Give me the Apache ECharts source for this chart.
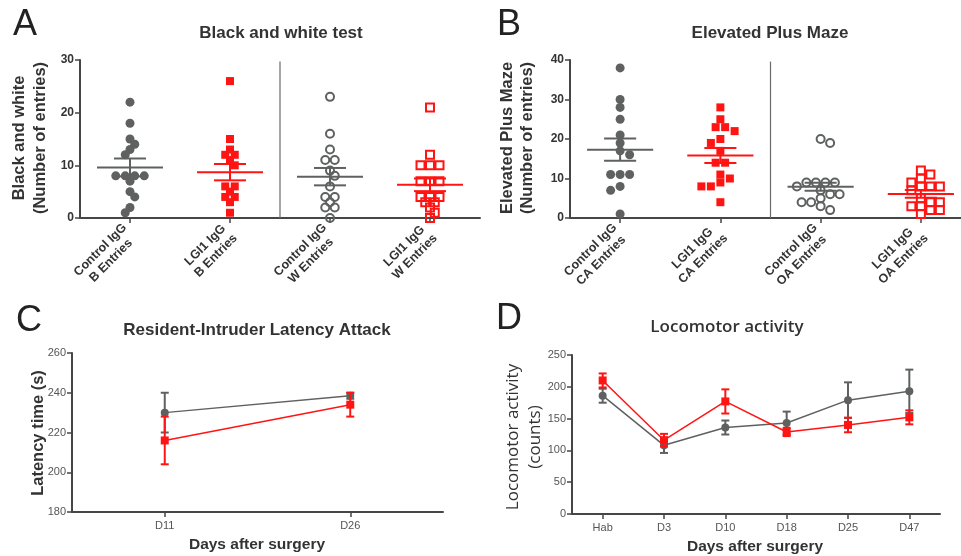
<!DOCTYPE html>
<html><head><meta charset="utf-8">
<script src="https://cdn.jsdelivr.net/npm/echarts@6/dist/echarts.min.js"></script>
<style>html,body{margin:0;padding:0;background:#fff}#c{width:961px;height:556px}</style>
</head><body><div id="c"></div>
<script>
// ---------- DATA ----------
// Panel A: Black and white test (number of entries)
const catA = ['Control IgG\nB Entries', 'LGI1 IgG\nB Entries', 'Control IgG\nW Entries', 'LGI1 IgG\nW Entries'];
const aCtrlB = [22, 18, 15, 14, 13, 12, 8, 8, 8, 8, 7, 5, 4, 2, 1];
const aLgiB  = [26, 15, 13, 12, 12, 11, 10, 6, 6, 5, 4, 4, 3, 1];
const aCtrlW = [23, 16, 13, 11, 11, 9, 8, 6, 4, 4, 3, 2, 2, 0];
const aLgiW  = [21, 12, 10, 10, 10, 7, 7, 7, 4, 4, 4, 3, 3, 2, 1, 0];
const aMean = [9.6, 8.7, 7.85, 6.3];
const aSem  = [1.7, 1.55, 1.65, 1.2];
const aTicks = [0, 10, 20, 30];

// Panel B: Elevated Plus Maze (number of entries)
const catB = ['Control IgG\nCA Entries', 'LGI1 IgG\nCA Entries', 'Control IgG\nOA Entries', 'LGI1 IgG\nOA Entries'];
const bCtrlCA = [38, 30, 28, 25, 21, 19, 17, 16, 11, 11, 11, 8, 7, 1];
const bLgiCA  = [28, 25, 23, 23, 22, 20, 19, 17, 14, 14, 11, 10, 9, 8, 8, 4];
const bCtrlOA = [20, 19, 9, 9, 9, 9, 8, 7, 6, 6, 5, 4, 4, 3, 2];
const bLgiOA  = [12, 11, 10, 9, 8, 8, 8, 7, 5, 4, 4, 3, 3, 2, 2, 1];
const bMean = [17.3, 15.8, 7.9, 6.1];
const bSem  = [2.8, 1.9, 1.0, 1.0];
const bTicks = [0, 10, 20, 30, 40];

// Panel C: Resident-Intruder latency attack
const cDays = ['D11', 'D26'];
const cCtrl = [230, 238.5];
const cCtrlErr = [10, 1.5];
const cLgi = [216, 234];
const cLgiErr = [12, 6];

// Panel D: Locomotor activity
const dDays = ['Hab', 'D3', 'D10', 'D18', 'D25', 'D47'];
const dCtrl = [186, 108, 136, 143, 179, 193];
const dCtrlErr = [11, 12, 11, 18, 28, 34];
const dLgi = [210, 116, 177, 129, 140, 152];
const dLgiErr = [11, 10, 19, 6.5, 11.5, 11];

// ---------- STYLE ----------
const GREY = '#5f6161';
const RED = '#ff1414';
const AXIS = '#464646';
const FONT = '"Liberation Sans", Arial, sans-serif';

const gA = {left: 80, top: 60, width: 400, height: 158};
const gB = {left: 570, top: 60, width: 401, height: 158};
const gC = {left: 72, top: 353, width: 371, height: 159};
const gD = {left: 572, top: 355, width: 368, height: 159};

// beeswarm offsets (category units) computed from values
function swarm(values, pxPerUnit, catPx) {
  const step = 9.5, minDist = 7;
  const placed = [];
  const out = new Array(values.length);
  const order = values.map((v, i) => i).sort((a, b) => values[b] - values[a]);
  let k = 0, flip = 1;
  while (k < order.length) {
    let j = k;
    while (j < order.length && values[order[j]] === values[order[k]]) j++;
    const n = j - k;
    const y = values[order[k]] * pxPerUnit;
    const shifts = [0];
    for (let s = 1; s < 30; s++) shifts.push(flip * s * step / 2, -flip * s * step / 2);
    for (const sh of shifts) {
      const xs = [];
      for (let m = 0; m < n; m++) xs.push((m - (n - 1) / 2) * step + sh);
      if (xs.every(x => placed.every(p => Math.hypot(p.x - x, p.y - y) >= minDist))) {
        xs.forEach((x, m) => { placed.push({x, y}); out[order[k + m]] = x / catPx; });
        if (sh !== 0) flip = -flip;
        break;
      }
    }
    k = j;
  }
  return out;
}
function scatterData(values, idx, grid, ymax) {
  const off = swarm(values, grid.height / ymax, grid.width / 4);
  return values.map((v, i) => [idx + off[i], v]);
}

function meanSemRender(color0, color1) {
  return function (params, api) {
    const i = api.value(0), m = api.value(1), s = api.value(2);
    const col = (i % 2 === 0) ? color0 : color1;
    const ml = api.coord([i - 0.33, m]), mr = api.coord([i + 0.33, m]);
    const tl = api.coord([i - 0.16, m + s]), tr = api.coord([i + 0.16, m + s]);
    const bl = api.coord([i - 0.16, m - s]), br = api.coord([i + 0.16, m - s]);
    const st = {stroke: col, lineWidth: 2};
    return {type: 'group', children: [
      {type: 'line', shape: {x1: ml[0], y1: ml[1], x2: mr[0], y2: mr[1]}, style: st},
      {type: 'line', shape: {x1: tl[0], y1: tl[1], x2: tr[0], y2: tr[1]}, style: st},
      {type: 'line', shape: {x1: bl[0], y1: bl[1], x2: br[0], y2: br[1]}, style: st},
      {type: 'line', shape: {x1: (tl[0] + tr[0]) / 2, y1: tl[1], x2: (bl[0] + br[0]) / 2, y2: bl[1]}, style: st}
    ]};
  };
}
function dividerRender(ymax) {
  return function (params, api) {
    const x = api.value(0);
    const a = api.coord([x, 0]), b = api.coord([x, ymax * 0.99]);
    return {type: 'line', shape: {x1: a[0], y1: a[1], x2: b[0], y2: b[1]}, style: {stroke: '#6a6a6a', lineWidth: 1.2}};
  };
}
function errRender(color) {
  return function (params, api) {
    const x = api.value(0), v = api.value(1), e = api.value(2);
    const t = api.coord([x, v + e]), b = api.coord([x, v - e]);
    const hw = 4, st = {stroke: color, lineWidth: 2};
    return {type: 'group', children: [
      {type: 'line', shape: {x1: t[0], y1: t[1], x2: b[0], y2: b[1]}, style: st},
      {type: 'line', shape: {x1: t[0] - hw, y1: t[1], x2: t[0] + hw, y2: t[1]}, style: st},
      {type: 'line', shape: {x1: b[0] - hw, y1: b[1], x2: b[0] + hw, y2: b[1]}, style: st}
    ]};
  };
}

function catAxisRot(grid, data) {
  return {
    type: 'category', gridIndex: grid, data: data, boundaryGap: true,
    axisLine: {show: true, onZero: false, lineStyle: {color: AXIS, width: 2}},
    axisTick: {show: true, alignWithLabel: true, length: 5, lineStyle: {color: AXIS, width: 1.5}},
    axisLabel: {
      interval: 0, rotate: 45, margin: 13, color: '#333', fontSize: 12.5, fontWeight: 'bold', fontFamily: FONT,
      formatter: v => v.split('\n').map(s => '{c|' + s + '}').join('\n'),
      rich: {c: {align: 'center', fontSize: 12.5, fontWeight: 'bold', color: '#333', fontFamily: FONT, lineHeight: 15}}
    }
  };
}
function hiddenX(grid) {
  return {type: 'value', gridIndex: grid, min: -0.5, max: 3.5, show: false};
}
function catAxis(grid, data) {
  return {
    type: 'category', gridIndex: grid, data: data, boundaryGap: true,
    axisLine: {show: true, onZero: false, lineStyle: {color: AXIS, width: 2}},
    axisTick: {show: true, alignWithLabel: true, length: 5, lineStyle: {color: AXIS, width: 1.5}},
    axisLabel: {interval: 0, margin: 8, color: '#555', fontSize: 11, fontFamily: FONT}
  };
}
function valAxis(grid, min, max, interval, bold) {
  return {
    type: 'value', gridIndex: grid, min: min, max: max, interval: interval,
    axisLine: {show: true, onZero: false, lineStyle: {color: AXIS, width: 2}},
    axisTick: {show: true, length: 5, lineStyle: {color: AXIS, width: 1.5}},
    splitLine: {show: false},
    axisLabel: {margin: 6, color: bold ? '#333' : '#555', fontSize: bold ? 12 : 11, fontWeight: bold ? 'bold' : 'normal', fontFamily: FONT}
  };
}

function scatter(xi, yi, data, symbol, size, filled, color) {
  return {
    type: 'scatter', xAxisIndex: xi, yAxisIndex: yi, data: data, symbol: symbol, symbolSize: size, z: 3,
    itemStyle: filled ? {color: color, opacity: 1} : {color: 'rgba(0,0,0,0)', borderColor: color, borderWidth: 2, opacity: 1},
    emphasis: {disabled: true}
  };
}

const aMax = aTicks[aTicks.length - 1], bMax = bTicks[bTicks.length - 1];

const option = {
  animation: false,
  backgroundColor: '#fff',
  grid: [gA, gB, gC, gD].map(g => Object.assign({containLabel: false, outerBoundsMode: 'none'}, g)),
  xAxis: [
    catAxisRot(0, catA), hiddenX(0),
    catAxisRot(1, catB), hiddenX(1),
    catAxis(2, cDays), catAxis(3, dDays)
  ],
  yAxis: [
    valAxis(0, aTicks[0], aMax, aTicks[1] - aTicks[0], true),
    valAxis(1, bTicks[0], bMax, bTicks[1] - bTicks[0], true),
    valAxis(2, 180, 260, 20, false),
    valAxis(3, 0, 250, 50, false)
  ],
  series: [
    // Panel A
    {type: 'custom', xAxisIndex: 1, yAxisIndex: 0, data: [[1.5]], renderItem: dividerRender(aMax), z: 1, silent: true},
    scatter(1, 0, scatterData(aCtrlB, 0, gA, aMax), 'circle', 9, true, GREY),
    scatter(1, 0, scatterData(aLgiB, 1, gA, aMax), 'rect', 8, true, RED),
    scatter(1, 0, scatterData(aCtrlW, 2, gA, aMax), 'circle', 8, false, GREY),
    scatter(1, 0, scatterData(aLgiW, 3, gA, aMax), 'rect', 8, false, RED),
    {type: 'custom', xAxisIndex: 1, yAxisIndex: 0, data: aMean.map((m, i) => [i, m, aSem[i]]), renderItem: meanSemRender(GREY, RED), z: 5, silent: true},
    // Panel B
    {type: 'custom', xAxisIndex: 3, yAxisIndex: 1, data: [[1.5]], renderItem: dividerRender(bMax), z: 1, silent: true},
    scatter(3, 1, scatterData(bCtrlCA, 0, gB, bMax), 'circle', 9, true, GREY),
    scatter(3, 1, scatterData(bLgiCA, 1, gB, bMax), 'rect', 8, true, RED),
    scatter(3, 1, scatterData(bCtrlOA, 2, gB, bMax), 'circle', 8, false, GREY),
    scatter(3, 1, scatterData(bLgiOA, 3, gB, bMax), 'rect', 8, false, RED),
    {type: 'custom', xAxisIndex: 3, yAxisIndex: 1, data: bMean.map((m, i) => [i, m, bSem[i]]), renderItem: meanSemRender(GREY, RED), z: 5, silent: true},
    // Panel C
    {type: 'custom', xAxisIndex: 4, yAxisIndex: 2, data: cCtrl.map((v, i) => [i, v, cCtrlErr[i]]), renderItem: errRender(GREY), z: 2, silent: true},
    {type: 'line', xAxisIndex: 4, yAxisIndex: 2, data: cCtrl, symbol: 'circle', symbolSize: 8, showAllSymbol: true, z: 3,
      lineStyle: {color: GREY, width: 1.5}, itemStyle: {color: GREY}},
    {type: 'custom', xAxisIndex: 4, yAxisIndex: 2, data: cLgi.map((v, i) => [i, v, cLgiErr[i]]), renderItem: errRender(RED), z: 4, silent: true},
    {type: 'line', xAxisIndex: 4, yAxisIndex: 2, data: cLgi, symbol: 'rect', symbolSize: 8, showAllSymbol: true, z: 5,
      lineStyle: {color: RED, width: 1.5}, itemStyle: {color: RED}},
    // Panel D
    {type: 'custom', xAxisIndex: 5, yAxisIndex: 3, data: dCtrl.map((v, i) => [i, v, dCtrlErr[i]]), renderItem: errRender(GREY), z: 2, silent: true},
    {type: 'line', xAxisIndex: 5, yAxisIndex: 3, data: dCtrl, symbol: 'circle', symbolSize: 8, showAllSymbol: true, z: 3,
      lineStyle: {color: GREY, width: 1.5}, itemStyle: {color: GREY}},
    {type: 'custom', xAxisIndex: 5, yAxisIndex: 3, data: dLgi.map((v, i) => [i, v, dLgiErr[i]]), renderItem: errRender(RED), z: 4, silent: true},
    {type: 'line', xAxisIndex: 5, yAxisIndex: 3, data: dLgi, symbol: 'rect', symbolSize: 8, showAllSymbol: true, z: 5,
      lineStyle: {color: RED, width: 1.5}, itemStyle: {color: RED}}
  ],
  graphic: [
    // panel letters
    {type: 'text', x: 13, y: 25, style: {text: 'A', font: '36px ' + FONT, fill: '#222', align: 'left', verticalAlign: 'middle'}},
    {type: 'text', x: 497, y: 25, style: {text: 'B', font: '36px ' + FONT, fill: '#222', align: 'left', verticalAlign: 'middle'}},
    {type: 'text', x: 16, y: 321, style: {text: 'C', font: '36px ' + FONT, fill: '#222', align: 'left', verticalAlign: 'middle'}},
    {type: 'text', x: 496, y: 319, style: {text: 'D', font: '36px ' + FONT, fill: '#222', align: 'left', verticalAlign: 'middle'}},
    // titles
    {type: 'text', x: 281, y: 33, style: {text: 'Black and white test', font: 'bold 17px ' + FONT, fill: '#333', align: 'center', verticalAlign: 'middle'}},
    {type: 'text', x: 770, y: 33, style: {text: 'Elevated Plus Maze', font: 'bold 17px ' + FONT, fill: '#333', align: 'center', verticalAlign: 'middle'}},
    {type: 'text', x: 257, y: 330, style: {text: 'Resident-Intruder Latency Attack', font: 'bold 17px ' + FONT, fill: '#333', align: 'center', verticalAlign: 'middle'}},
    {type: 'text', x: 727, y: 327, style: {text: 'Locomotor activity', font: '600 17px "Open Sans", sans-serif', fill: '#333', align: 'center', verticalAlign: 'middle'}},
    // y-axis names
    {type: 'text', x: 30, y: 138, rotation: Math.PI / 2, style: {text: 'Black and white\n(Number of entries)', font: 'bold 16.5px ' + FONT, lineHeight: 21, fill: '#333', align: 'center', verticalAlign: 'middle'}},
    {type: 'text', x: 517, y: 138, rotation: Math.PI / 2, style: {text: 'Elevated Plus Maze\n(Number of entries)', font: 'bold 16.5px ' + FONT, lineHeight: 20, fill: '#333', align: 'center', verticalAlign: 'middle'}},
    {type: 'text', x: 38, y: 433, rotation: Math.PI / 2, style: {text: 'Latency time (s)', font: 'bold 16.5px ' + FONT, fill: '#333', align: 'center', verticalAlign: 'middle'}},
    {type: 'text', x: 524, y: 437, rotation: Math.PI / 2, style: {text: 'Locomotor activity\n(counts)', font: '17px "Open Sans", sans-serif', lineHeight: 22, fill: '#333', align: 'center', verticalAlign: 'middle'}},
    // x-axis names
    {type: 'text', x: 257, y: 545, style: {text: 'Days after surgery', font: 'bold 15.5px ' + FONT, fill: '#333', align: 'center', verticalAlign: 'middle'}},
    {type: 'text', x: 755, y: 547, style: {text: 'Days after surgery', font: 'bold 15.5px ' + FONT, fill: '#333', align: 'center', verticalAlign: 'middle'}}
  ]
};
const chart = echarts.init(document.getElementById('c'), null, {renderer: 'canvas'});
chart.setOption(option);
</script></body></html>
